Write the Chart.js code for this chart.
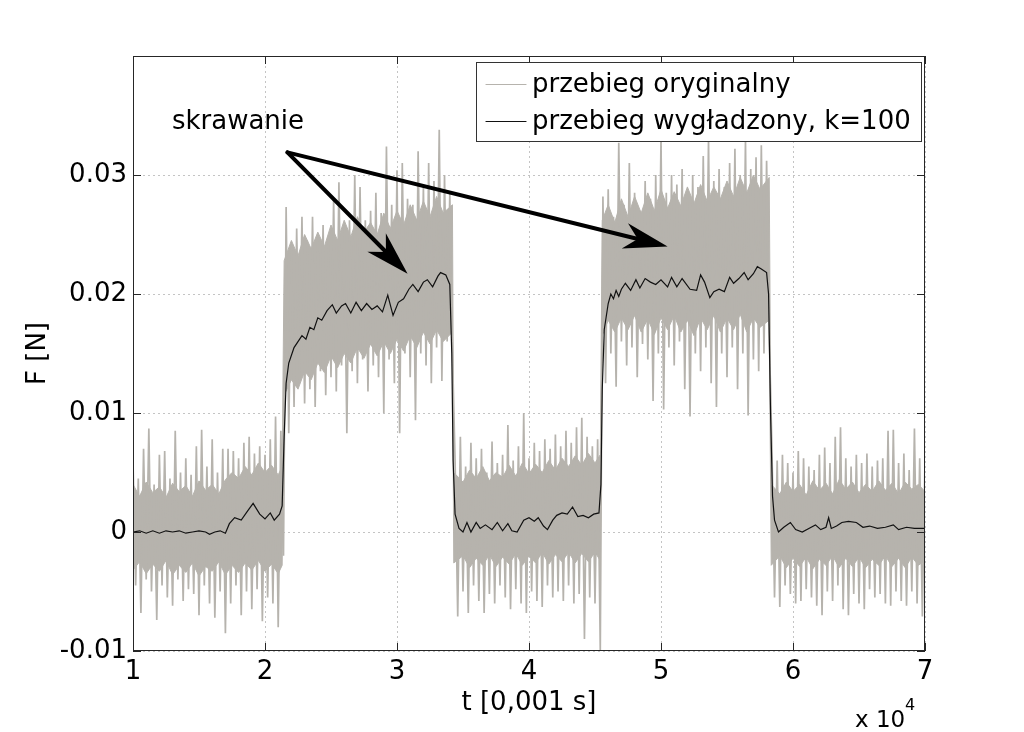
<!DOCTYPE html>
<html lang="pl">
<head>
  <meta charset="UTF-8">
  <title>Przebieg siły skrawania</title>
  <script src="https://cdn.jsdelivr.net/npm/chart.js@4"></script>
  <style>
    body {
      margin: 0;
      background: #ffffff;
    }
    .chart-container {
      position: relative;
      width: 1024px;
      height: 732px;
    }
  </style>
</head>
<body>
  <div class="chart-container">
    <canvas id="wykres"></canvas>
  </div>

  <script>
    // czas w jednostkach x 10^4 [0,001 s], próbki przebiegu oryginalnego co tKrok
    const tStart = 1;
    const tKrok = 0.02;

    // przebieg oryginalny F [N] (naprzemiennie szczyt / dolina szumu)
    const przebiegOryginalny = [
      // 1.00 - 1.70
      0.0060, -0.0045, 0.0045, -0.0068, 0.0070, -0.0040, 0.0087, -0.0050, 0.0040, -0.0074,
      0.0065, -0.0045, 0.0068, -0.0055, 0.0045, -0.0062, 0.0085, -0.0040, 0.0050, -0.0058,
      0.0062, -0.0048, 0.0048, -0.0052, 0.0072, -0.0070, 0.0086, -0.0045, 0.0055, -0.0060,
      0.0078, -0.0072, 0.0050, -0.0050, 0.0070, -0.0085,
      // 1.72 - 2.12
      0.0070, -0.0060, 0.0068, -0.0045, 0.0062, -0.0070, 0.0075, -0.0050, 0.0080, -0.0065,
      0.0066, -0.0048, 0.0072, -0.0075, 0.0065, -0.0055, 0.0078, -0.0060, 0.0097, -0.0080,
      0.0085,
      // 2.14
      -0.0020,
      // 2.16 - 3.42 (skrawanie)
      0.0273, 0.0083, 0.0240, 0.0105, 0.0255, 0.0125, 0.0265, 0.0108, 0.0245, 0.0120,
      0.0265, 0.0105, 0.0250, 0.0135, 0.0258, 0.0115, 0.0248, 0.0130, 0.0280, 0.0118,
      0.0294, 0.0140, 0.0255, 0.0083, 0.0262, 0.0135, 0.0300, 0.0125, 0.0290, 0.0145,
      0.0262, 0.0118, 0.0270, 0.0140, 0.0285, 0.0130, 0.0268, 0.0100, 0.0324, 0.0145,
      0.0275, 0.0125, 0.0304, 0.0083, 0.0310, 0.0150, 0.0280, 0.0130, 0.0275, 0.0094,
      0.0320, 0.0150, 0.0290, 0.0140, 0.0310, 0.0125, 0.0295, 0.0155, 0.0338, 0.0127,
      0.0300, 0.0160, 0.0285, 0.0150,
      // 3.44 - 4.54
      0.0060, -0.0071, 0.0080, -0.0050, 0.0055, -0.0068, 0.0075, -0.0045, 0.0062, -0.0058,
      0.0070, -0.0068, 0.0050, -0.0052, 0.0076, -0.0060, 0.0058, -0.0045, 0.0065, -0.0055,
      0.0090, -0.0065, 0.0060, -0.0048, 0.0072, -0.0060, 0.0100, -0.0068, 0.0062, -0.0050,
      0.0075, -0.0058, 0.0068, -0.0063, 0.0078, -0.0045, 0.0070, -0.0055, 0.0082, -0.0050,
      0.0072, -0.0058, 0.0085, -0.0045, 0.0075, -0.0060, 0.0088, -0.0052, 0.0096, -0.0090,
      0.0080, -0.0055, 0.0072, -0.0060, 0.0078, -0.0100,
      // 4.56 - 5.82 (skrawanie)
      0.0282, 0.0125, 0.0288, 0.0150, 0.0265, 0.0122, 0.0327, 0.0160, 0.0275, 0.0140,
      0.0310, 0.0155, 0.0285, 0.0130, 0.0270, 0.0158, 0.0295, 0.0145, 0.0280, 0.0110,
      0.0300, 0.0150, 0.0330, 0.0103, 0.0285, 0.0155, 0.0300, 0.0140, 0.0292, 0.0160,
      0.0305, 0.0120, 0.0280, 0.0097, 0.0300, 0.0150, 0.0290, 0.0135, 0.0316, 0.0155,
      0.0330, 0.0125, 0.0295, 0.0105, 0.0305, 0.0150, 0.0290, 0.0130, 0.0310, 0.0155,
      0.0322, 0.0120, 0.0300, 0.0150, 0.0330, 0.0098, 0.0305, 0.0145, 0.0315, 0.0135,
      0.0325, 0.0150, 0.0312, 0.0165,
      // 5.84 - 7.00
      0.0072, -0.0055, 0.0060, -0.0063, 0.0065, -0.0045, 0.0058, -0.0052, 0.0050, -0.0060,
      0.0068, -0.0058, 0.0062, -0.0048, 0.0055, -0.0055, 0.0052, -0.0062, 0.0065, -0.0070,
      0.0071, -0.0050, 0.0058, -0.0058, 0.0080, -0.0045, 0.0088, -0.0065, 0.0062, -0.0070,
      0.0055, -0.0052, 0.0065, -0.0060, 0.0058, -0.0065, 0.0066, -0.0048, 0.0055, -0.0055,
      0.0060, -0.0052, 0.0062, -0.0060, 0.0085, -0.0062, 0.0086, -0.0050, 0.0058, -0.0058,
      0.0066, -0.0062, 0.0052, -0.0050, 0.0087, -0.0060, 0.0062, -0.0071, 0.0060
    ];

    // gęsty rdzeń szumu przebiegu oryginalnego: górna granica [t, F]
    const rdzenGorny = [
      [1.00, 0.0040], [1.05, 0.0030], [1.10, 0.0042], [1.15, 0.0033], [1.20, 0.0038],
      [1.25, 0.0029], [1.30, 0.0041], [1.35, 0.0034], [1.40, 0.0039], [1.45, 0.0030],
      [1.50, 0.0043], [1.55, 0.0035], [1.60, 0.0040], [1.65, 0.0032], [1.70, 0.0044],
      [1.75, 0.0050], [1.80, 0.0045], [1.85, 0.0055], [1.90, 0.0048], [1.95, 0.0058],
      [2.00, 0.0050], [2.05, 0.0056], [2.10, 0.0048], [2.13, 0.0055],
      [2.145, 0.0228], [2.20, 0.0245], [2.25, 0.0232], [2.30, 0.0250], [2.35, 0.0238],
      [2.40, 0.0252], [2.45, 0.0240], [2.50, 0.0258], [2.55, 0.0245], [2.60, 0.0262],
      [2.65, 0.0248], [2.70, 0.0265], [2.75, 0.0252], [2.80, 0.0260], [2.85, 0.0250],
      [2.90, 0.0268], [2.95, 0.0255], [3.00, 0.0270], [3.05, 0.0258], [3.10, 0.0275],
      [3.15, 0.0262], [3.20, 0.0278], [3.25, 0.0265], [3.30, 0.0282], [3.35, 0.0268],
      [3.42, 0.0275],
      [3.43, 0.0050], [3.50, 0.0042], [3.55, 0.0052], [3.60, 0.0045], [3.65, 0.0055],
      [3.70, 0.0043], [3.75, 0.0050], [3.80, 0.0046], [3.85, 0.0056], [3.90, 0.0047],
      [3.95, 0.0058], [4.00, 0.0049], [4.05, 0.0057], [4.10, 0.0050], [4.15, 0.0060],
      [4.20, 0.0052], [4.25, 0.0062], [4.30, 0.0055], [4.35, 0.0064], [4.40, 0.0056],
      [4.45, 0.0066], [4.50, 0.0058], [4.54, 0.0065],
      [4.555, 0.0262], [4.60, 0.0275], [4.65, 0.0260], [4.70, 0.0280], [4.75, 0.0265],
      [4.80, 0.0282], [4.85, 0.0268], [4.90, 0.0285], [4.95, 0.0270], [5.00, 0.0288],
      [5.05, 0.0272], [5.10, 0.0286], [5.15, 0.0274], [5.20, 0.0290], [5.25, 0.0276],
      [5.30, 0.0292], [5.35, 0.0278], [5.40, 0.0290], [5.45, 0.0280], [5.50, 0.0295],
      [5.55, 0.0282], [5.60, 0.0298], [5.65, 0.0285], [5.70, 0.0300], [5.75, 0.0288],
      [5.82, 0.0298],
      [5.835, 0.0040], [5.90, 0.0032], [5.95, 0.0042], [6.00, 0.0034], [6.05, 0.0040],
      [6.10, 0.0031], [6.15, 0.0043], [6.20, 0.0035], [6.25, 0.0041], [6.30, 0.0032],
      [6.35, 0.0044], [6.40, 0.0036], [6.45, 0.0042], [6.50, 0.0033], [6.55, 0.0040],
      [6.60, 0.0034], [6.65, 0.0043], [6.70, 0.0035], [6.75, 0.0041], [6.80, 0.0032],
      [6.85, 0.0042], [6.90, 0.0036], [6.95, 0.0040], [7.00, 0.0034]
    ];

    // gęsty rdzeń szumu: dolna granica [t, F]
    const rdzenDolny = [
      [1.00, -0.0032], [1.05, -0.0025], [1.10, -0.0035], [1.15, -0.0027], [1.20, -0.0033],
      [1.25, -0.0024], [1.30, -0.0036], [1.35, -0.0028], [1.40, -0.0034], [1.45, -0.0026],
      [1.50, -0.0037], [1.55, -0.0029], [1.60, -0.0033], [1.65, -0.0025], [1.70, -0.0036],
      [1.75, -0.0028], [1.80, -0.0034], [1.85, -0.0026], [1.90, -0.0032], [1.95, -0.0024],
      [2.00, -0.0033], [2.05, -0.0027], [2.10, -0.0035], [2.13, -0.0028],
      [2.145, 0.0115], [2.20, 0.0128], [2.25, 0.0120], [2.30, 0.0135], [2.35, 0.0128],
      [2.40, 0.0142], [2.45, 0.0134], [2.50, 0.0148], [2.55, 0.0138], [2.60, 0.0150],
      [2.65, 0.0142], [2.70, 0.0155], [2.75, 0.0146], [2.80, 0.0158], [2.85, 0.0148],
      [2.90, 0.0160], [2.95, 0.0150], [3.00, 0.0162], [3.05, 0.0152], [3.10, 0.0165],
      [3.15, 0.0155], [3.20, 0.0168], [3.25, 0.0158], [3.30, 0.0170], [3.35, 0.0160],
      [3.42, 0.0168],
      [3.43, -0.0026], [3.50, -0.0020], [3.55, -0.0030], [3.60, -0.0022], [3.65, -0.0028],
      [3.70, -0.0019], [3.75, -0.0029], [3.80, -0.0021], [3.85, -0.0027], [3.90, -0.0018],
      [3.95, -0.0028], [4.00, -0.0020], [4.05, -0.0026], [4.10, -0.0017], [4.15, -0.0027],
      [4.20, -0.0019], [4.25, -0.0025], [4.30, -0.0017], [4.35, -0.0026], [4.40, -0.0018],
      [4.45, -0.0025], [4.50, -0.0017], [4.54, -0.0024],
      [4.555, 0.0165], [4.60, 0.0178], [4.65, 0.0168], [4.70, 0.0180], [4.75, 0.0170],
      [4.80, 0.0182], [4.85, 0.0168], [4.90, 0.0179], [4.95, 0.0166], [5.00, 0.0180],
      [5.05, 0.0170], [5.10, 0.0182], [5.15, 0.0168], [5.20, 0.0178], [5.25, 0.0165],
      [5.30, 0.0180], [5.35, 0.0170], [5.40, 0.0182], [5.45, 0.0168], [5.50, 0.0180],
      [5.55, 0.0170], [5.60, 0.0183], [5.65, 0.0168], [5.70, 0.0180], [5.75, 0.0172],
      [5.82, 0.0178],
      [5.835, -0.0028], [5.90, -0.0020], [5.95, -0.0030], [6.00, -0.0022], [6.05, -0.0029],
      [6.10, -0.0021], [6.15, -0.0031], [6.20, -0.0023], [6.25, -0.0028], [6.30, -0.0020],
      [6.35, -0.0030], [6.40, -0.0022], [6.45, -0.0029], [6.50, -0.0021], [6.55, -0.0030],
      [6.60, -0.0023], [6.65, -0.0028], [6.70, -0.0020], [6.75, -0.0029], [6.80, -0.0022],
      [6.85, -0.0030], [6.90, -0.0021], [6.95, -0.0028], [7.00, -0.0024]
    ];

    // przebieg wygładzony, k=100: [t, F]
    const przebiegWygladzony = [
      [1.00, 0.0000], [1.05, 0.0001], [1.10, -0.0001], [1.15, 0.0001], [1.20, -0.0001],
      [1.25, 0.0001], [1.30, 0.0000], [1.35, 0.0001], [1.40, -0.0001], [1.45, 0.0000],
      [1.50, 0.0001], [1.55, 0.0000], [1.58, -0.0002], [1.62, 0.0000], [1.66, 0.0001],
      [1.70, -0.0001], [1.73, 0.0007], [1.77, 0.0012], [1.82, 0.0010], [1.87, 0.0018],
      [1.91, 0.0024], [1.96, 0.0015], [2.00, 0.0011], [2.04, 0.0016], [2.07, 0.0010],
      [2.11, 0.0015], [2.13, 0.0022], [2.145, 0.0080], [2.16, 0.0125], [2.18, 0.0142],
      [2.22, 0.0155], [2.25, 0.0160], [2.28, 0.0165], [2.31, 0.0162], [2.34, 0.0172],
      [2.37, 0.0170], [2.40, 0.0180], [2.43, 0.0178], [2.47, 0.0186], [2.51, 0.0191],
      [2.54, 0.0184], [2.58, 0.0190], [2.61, 0.0192], [2.65, 0.0184], [2.69, 0.0193],
      [2.73, 0.0186], [2.77, 0.0192], [2.81, 0.0187], [2.85, 0.0190], [2.89, 0.0185],
      [2.93, 0.0199], [2.97, 0.0182], [3.01, 0.0193], [3.05, 0.0196], [3.09, 0.0204],
      [3.12, 0.0208], [3.16, 0.0202], [3.20, 0.0210], [3.23, 0.0212], [3.27, 0.0206],
      [3.31, 0.0215], [3.33, 0.0218], [3.37, 0.0216], [3.40, 0.0208], [3.415, 0.0150],
      [3.425, 0.0060], [3.44, 0.0015], [3.47, 0.0003], [3.50, 0.0000], [3.53, 0.0008],
      [3.56, 0.0000], [3.60, 0.0008], [3.63, 0.0003], [3.67, 0.0006], [3.72, 0.0002],
      [3.76, 0.0008], [3.80, 0.0001], [3.84, 0.0007], [3.87, 0.0001], [3.91, 0.0000],
      [3.96, 0.0010], [4.00, 0.0012], [4.04, 0.0009], [4.07, 0.0012], [4.11, 0.0005],
      [4.14, 0.0002], [4.18, 0.0010], [4.21, 0.0014], [4.25, 0.0016], [4.29, 0.0015],
      [4.33, 0.0021], [4.37, 0.0013], [4.41, 0.0014], [4.45, 0.0012], [4.49, 0.0015],
      [4.53, 0.0016], [4.545, 0.0040], [4.555, 0.0120], [4.57, 0.0170], [4.60, 0.0192],
      [4.62, 0.0200], [4.64, 0.0196], [4.66, 0.0203], [4.68, 0.0198], [4.70, 0.0204],
      [4.73, 0.0209], [4.77, 0.0203], [4.81, 0.0212], [4.84, 0.0205], [4.88, 0.0213],
      [4.92, 0.0210], [4.96, 0.0208], [5.00, 0.0212], [5.05, 0.0206], [5.08, 0.0214],
      [5.12, 0.0206], [5.16, 0.0213], [5.22, 0.0204], [5.27, 0.0203], [5.30, 0.0216],
      [5.33, 0.0210], [5.37, 0.0197], [5.40, 0.0202], [5.44, 0.0204], [5.48, 0.0202],
      [5.52, 0.0214], [5.55, 0.0209], [5.59, 0.0213], [5.63, 0.0218], [5.66, 0.0212],
      [5.70, 0.0217], [5.73, 0.0223], [5.76, 0.0221], [5.80, 0.0218], [5.815, 0.0200],
      [5.83, 0.0100], [5.845, 0.0030], [5.86, 0.0010], [5.89, 0.0000], [5.93, 0.0004],
      [5.98, 0.0008], [6.02, 0.0002], [6.07, 0.0000], [6.12, 0.0003], [6.17, 0.0006],
      [6.21, 0.0002], [6.25, 0.0004], [6.27, 0.0012], [6.29, 0.0003], [6.33, 0.0005],
      [6.37, 0.0008], [6.42, 0.0009], [6.48, 0.0008], [6.53, 0.0004], [6.58, 0.0005],
      [6.64, 0.0003], [6.70, 0.0004], [6.76, 0.0006], [6.80, 0.0002], [6.86, 0.0004],
      [6.92, 0.0003], [7.00, 0.0003]
    ];

    const xTicks = [1, 2, 3, 4, 5, 6, 7];
    const yTicks = [-0.01, 0, 0.01, 0.02, 0.03];
    const yTickLabels = ['-0.01', '0', '0.01', '0.02', '0.03'];

    // adnotacja "skrawanie" i strzałki (w jednostkach danych)
    const napis = { t: 1.295, f: 0.03445, tekst: 'skrawanie' };
    const poczatekStrzalek = { t: 2.17, f: 0.0319 };
    const grotyStrzalek = [{ t: 3.08, f: 0.0217 }, { t: 5.05, f: 0.0240 }];

    const FONT = "'DejaVu Sans', 'Liberation Sans', Arial, sans-serif";
    const SZARY = '#b6b3ad';

    Chart.defaults.font.family = FONT;
    Chart.defaults.color = '#000000';

    function strzalka(ctx, x0, y0, x1, y1) {
      const ang = Math.atan2(y1 - y0, x1 - x0);
      const c = Math.cos(ang), s = Math.sin(ang);
      const dl = 44, sz = 13;
      ctx.beginPath();
      ctx.moveTo(x0, y0);
      ctx.lineTo(x1 - c * dl * 0.6, y1 - s * dl * 0.6);
      ctx.stroke();
      const bx = x1 - c * dl, by = y1 - s * dl;
      ctx.beginPath();
      ctx.moveTo(x1, y1);
      ctx.lineTo(bx + s * sz, by - c * sz);
      ctx.lineTo(x1 - c * dl * 0.7, y1 - s * dl * 0.7);
      ctx.lineTo(bx - s * sz, by + c * sz);
      ctx.closePath();
      ctx.fill();
    }

    // ramka osi, znaczniki do wewnątrz, adnotacje, legenda w stylu MATLAB-a
    const ramkaPlugin = {
      id: 'ramkaMatlab',
      afterDraw(chart) {
        const { ctx, chartArea: a, scales: { x, y } } = chart;
        ctx.save();

        // ramka + znaczniki
        ctx.strokeStyle = '#262626';
        ctx.lineWidth = 1;
        ctx.strokeRect(a.left + 0.5, a.top + 0.5, a.right - a.left - 1, a.bottom - a.top - 1);
        ctx.beginPath();
        xTicks.forEach(v => {
          const px = Math.round(x.getPixelForValue(v)) + 0.5;
          ctx.moveTo(px, a.bottom); ctx.lineTo(px, a.bottom - 8);
          ctx.moveTo(px, a.top); ctx.lineTo(px, a.top + 8);
        });
        yTicks.forEach(v => {
          const py = Math.round(y.getPixelForValue(v)) + 0.5;
          ctx.moveTo(a.left, py); ctx.lineTo(a.left + 8, py);
          ctx.moveTo(a.right, py); ctx.lineTo(a.right - 8, py);
        });
        ctx.stroke();

        // strzałki
        ctx.strokeStyle = '#000000';
        ctx.fillStyle = '#000000';
        ctx.lineWidth = 4;
        ctx.lineCap = 'round';
        const x0 = x.getPixelForValue(poczatekStrzalek.t);
        const y0 = y.getPixelForValue(poczatekStrzalek.f);
        grotyStrzalek.forEach(g => {
          strzalka(ctx, x0, y0, x.getPixelForValue(g.t), y.getPixelForValue(g.f));
        });

        // napis
        ctx.font = '26px ' + FONT;
        ctx.textBaseline = 'middle';
        ctx.textAlign = 'left';
        ctx.fillText(napis.tekst, x.getPixelForValue(napis.t), y.getPixelForValue(napis.f));

        // legenda (tylko dwa pierwsze zbiory)
        const lw = 445, lh = 79;
        const lx = a.right - 449, ly = a.top + 6;
        ctx.fillStyle = '#ffffff';
        ctx.fillRect(lx, ly, lw, lh);
        ctx.lineWidth = 1;
        ctx.strokeStyle = '#333333';
        ctx.strokeRect(lx + 0.5, ly + 0.5, lw, lh);
        chart.data.datasets.slice(0, 2).forEach((ds, i) => {
          const ry = ly + 22 + i * 37;
          ctx.beginPath();
          ctx.strokeStyle = ds.borderColor;
          ctx.lineWidth = 1.2;
          ctx.moveTo(lx + 10, ry + 0.5);
          ctx.lineTo(lx + 50, ry + 0.5);
          ctx.stroke();
          ctx.fillStyle = '#000000';
          ctx.fillText(ds.label, lx + 56, ry + 1);
        });

        // mnożnik osi x
        ctx.fillStyle = '#000000';
        ctx.textBaseline = 'alphabetic';
        ctx.font = '23px ' + FONT;
        ctx.fillText('x 10', a.right - 70, 727);
        ctx.font = '16px ' + FONT;
        ctx.fillText('4', a.right - 20, 710);

        ctx.restore();
      }
    };

    const ctx = document.getElementById('wykres').getContext('2d');
    new Chart(ctx, {
      type: 'line',
      data: {
        datasets: [
          {
            label: 'przebieg oryginalny',
            data: przebiegOryginalny.map((f, i) => ({ x: tStart + i * tKrok, y: f })),
            borderColor: SZARY,
            borderWidth: 1.7,
            borderJoinStyle: 'bevel',
            pointRadius: 0,
            tension: 0,
            fill: false,
            order: 2
          },
          {
            label: 'przebieg wygładzony, k=100',
            data: przebiegWygladzony.map(([t, f]) => ({ x: t, y: f })),
            borderColor: '#111111',
            borderWidth: 1.2,
            pointRadius: 0,
            tension: 0,
            fill: false,
            order: 1
          },
          {
            label: 'rdzeń górny',
            data: rdzenGorny.map(([t, f]) => ({ x: t, y: f })),
            borderWidth: 1,
            borderColor: SZARY,
            pointRadius: 0,
            tension: 0,
            fill: false,
            order: 3
          },
          {
            label: 'rdzeń dolny',
            data: rdzenDolny.map(([t, f]) => ({ x: t, y: f })),
            borderWidth: 1,
            borderColor: SZARY,
            backgroundColor: SZARY,
            pointRadius: 0,
            tension: 0,
            fill: '-1',
            order: 3
          }
        ]
      },
      options: {
        responsive: true,
        maintainAspectRatio: false,
        animation: false,
        events: [],
        layout: { padding: { top: 56, right: 99, left: 0, bottom: 0 } },
        plugins: {
          legend: { display: false },
          tooltip: { enabled: false }
        },
        scales: {
          x: {
            type: 'linear',
            min: 1,
            max: 7,
            afterBuildTicks: s => { s.ticks = xTicks.map(v => ({ value: v })); },
            afterFit: s => { s.height = 81; },
            ticks: {
              autoSkip: false,
              maxRotation: 0,
              padding: 6,
              color: '#000000',
              font: { size: 26 },
              callback: v => String(v)
            },
            grid: { color: '#c4c4c4', drawTicks: false, lineWidth: 1 },
            border: { display: false, dash: [2, 3] },
            title: {
              display: true,
              text: 't [0,001 s]',
              color: '#000000',
              font: { size: 26 },
              padding: { top: 0, bottom: 13 }
            }
          },
          y: {
            type: 'linear',
            min: -0.01,
            max: 0.04,
            afterBuildTicks: s => { s.ticks = yTicks.map(v => ({ value: v })); },
            afterFit: s => { s.width = 133; },
            ticks: {
              padding: 6,
              color: '#000000',
              font: { size: 26 },
              callback: (v, i) => yTickLabels[i]
            },
            grid: { color: '#c4c4c4', drawTicks: false, lineWidth: 1 },
            border: { display: false, dash: [2, 3] },
            title: {
              display: true,
              text: 'F [N]',
              color: '#000000',
              font: { size: 26 },
              padding: { top: 23, bottom: 0 }
            }
          }
        }
      },
      plugins: [ramkaPlugin]
    });
  </script>
</body>
</html>
